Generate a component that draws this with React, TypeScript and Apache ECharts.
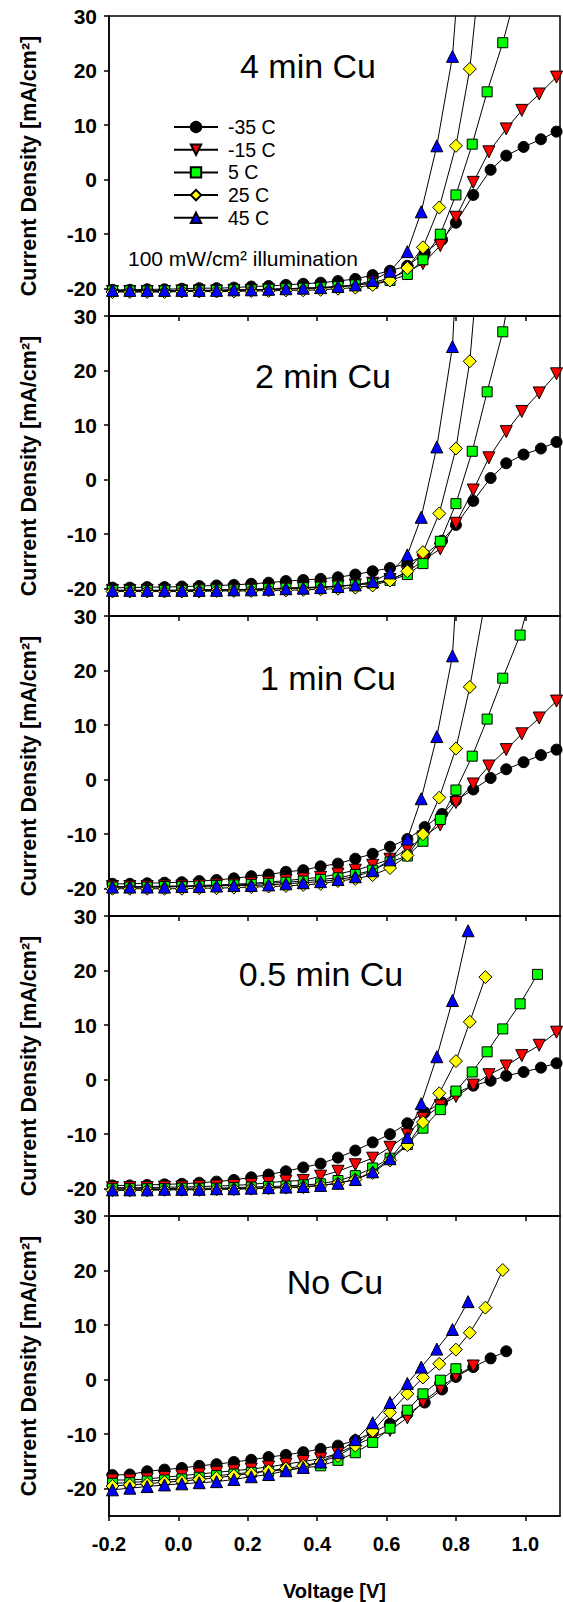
import React, { useEffect, useRef } from "react";
import * as echarts from "echarts";

// ---- voltage values (V) ----
const vBase = [-0.19, -0.14, -0.09, -0.04, 0.01, 0.06, 0.11, 0.16, 0.21, 0.26, 0.31, 0.36, 0.41, 0.46, 0.51, 0.56, 0.61];
const vTailM35 = [0.66, 0.71, 0.76, 0.8, 0.85, 0.9, 0.945, 0.995, 1.045, 1.09];
const vTailM15 = [0.66, 0.705, 0.755, 0.8, 0.85, 0.895, 0.945, 0.99, 1.04, 1.09];
const vTail5 = [0.66, 0.705, 0.755, 0.8, 0.847, 0.89, 0.935, 0.985, 1.035, 1.085];
const vTail25 = [0.66, 0.705, 0.752, 0.8, 0.84, 0.885, 0.935, 0.985];
const vTail45 = [0.66, 0.7, 0.745, 0.79, 0.835, 0.88];

const vM35 = vBase.concat(vTailM35);
const vM15 = vBase.concat(vTailM15);
const v5 = vBase.concat(vTail5);
const v25 = vBase.concat(vTail25);
const v45 = vBase.concat(vTail45);

// ---- tick labels ----
const xTicks = [-0.2, 0, 0.2, 0.4, 0.6, 0.8, 1.0];
const yTicks = [-20, -10, 0, 10, 20, 30];

// ---- legend / series names ----
const tempNames = ["-35 C", "-15 C", "5 C", "25 C", "45 C"];
const panelTitles = ["4 min Cu", "2 min Cu", "1 min Cu", "0.5 min Cu", "No Cu"];

// ---- current density (mA/cm2) : 4 min Cu ----
const cu4M35 = [-20.2, -20.2, -20.1, -20.1, -20.0, -19.9, -19.9, -19.8, -19.6, -19.5, -19.3, -19.1, -18.9, -18.6, -18.2, -17.5, -16.7, -15.8, -13.4, -11.0, -7.9, -2.8, 1.8, 4.4, 6.0, 7.4, 8.8];
const cu4M15 = [-20.5, -20.5, -20.5, -20.5, -20.4, -20.4, -20.4, -20.3, -20.3, -20.2, -20.1, -20.0, -19.9, -19.7, -19.4, -18.9, -18.0, -16.8, -15.4, -12.1, -6.9, -0.5, 5.1, 9.3, 12.7, 15.7, 18.8];
const cu4P5 = [-20.4, -20.4, -20.4, -20.4, -20.3, -20.3, -20.3, -20.2, -20.2, -20.1, -20.0, -19.9, -19.8, -19.6, -19.3, -19.0, -18.5, -17.4, -14.7, -10.0, -2.8, 6.5, 16.1, 25.1, 37];
const cu4P25 = [-20.6, -20.6, -20.6, -20.6, -20.5, -20.5, -20.5, -20.5, -20.4, -20.4, -20.3, -20.3, -20.2, -20.0, -19.8, -19.3, -18.5, -16.2, -12.4, -5.1, 6.2, 20.3, 48];
const cu4P45 = [-20.3, -20.3, -20.3, -20.3, -20.3, -20.3, -20.3, -20.2, -20.2, -20.1, -20.0, -19.9, -19.8, -19.6, -19.3, -18.5, -16.8, -13.2, -5.9, 6.2, 22.6, 60];

// ---- 2 min Cu ----
const cu2M35 = [-19.8, -19.8, -19.7, -19.7, -19.6, -19.5, -19.4, -19.3, -19.1, -18.9, -18.6, -18.4, -18.2, -17.9, -17.4, -16.8, -16.2, -15.4, -13.8, -11.2, -8.3, -3.9, 0.3, 3.0, 4.6, 5.7, 6.9];
const cu2M15 = [-20.3, -20.3, -20.3, -20.3, -20.3, -20.2, -20.2, -20.2, -20.1, -20.0, -19.9, -19.8, -19.7, -19.5, -19.3, -19.0, -18.3, -17.0, -14.8, -12.7, -8.0, -1.9, 4.0, 8.8, 12.5, 15.9, 19.4];
const cu2P5 = [-20.3, -20.3, -20.3, -20.3, -20.3, -20.2, -20.2, -20.2, -20.1, -20.0, -19.9, -19.8, -19.7, -19.5, -19.3, -19.0, -18.5, -17.4, -15.4, -11.3, -4.4, 5.2, 16.1, 27.1, 45];
const cu2P25 = [-20.5, -20.5, -20.5, -20.5, -20.5, -20.5, -20.4, -20.4, -20.4, -20.3, -20.3, -20.2, -20.1, -20.0, -19.8, -19.4, -18.5, -16.8, -13.3, -6.2, 5.7, 21.7, 55];
const cu2P45 = [-20.3, -20.3, -20.3, -20.3, -20.3, -20.3, -20.3, -20.2, -20.2, -20.1, -20.0, -19.9, -19.8, -19.6, -19.3, -18.7, -17.1, -13.8, -6.9, 6.0, 24.4, 80];

// ---- 1 min Cu ----
const cu1M35 = [-19.1, -19.1, -19.0, -18.9, -18.8, -18.6, -18.4, -18.1, -17.7, -17.4, -16.9, -16.6, -15.9, -15.4, -14.5, -13.6, -12.3, -10.9, -8.7, -6.3, -3.8, -1.8, 0.3, 1.9, 3.2, 4.5, 5.5];
const cu1M15 = [-19.6, -19.6, -19.6, -19.5, -19.5, -19.4, -19.3, -19.2, -19.0, -18.8, -18.5, -18.2, -17.9, -17.3, -16.6, -15.7, -14.6, -12.8, -10.5, -8.3, -4.2, -0.8, 2.5, 5.5, 8.4, 11.3, 14.4];
const cu1P5 = [-19.7, -19.7, -19.7, -19.6, -19.6, -19.5, -19.4, -19.3, -19.2, -19.0, -18.8, -18.6, -18.3, -18.0, -17.4, -16.6, -15.1, -14.0, -11.3, -7.3, -1.9, 4.3, 11.1, 18.6, 26.5, 38];
const cu1P25 = [-20.0, -20.0, -20.0, -20.0, -20.0, -19.9, -19.9, -19.8, -19.7, -19.6, -19.5, -19.3, -19.1, -18.6, -18.2, -17.5, -16.2, -13.9, -10.0, -3.3, 5.7, 17.0, 33];
const cu1P45 = [-19.7, -19.7, -19.7, -19.7, -19.6, -19.6, -19.5, -19.4, -19.4, -19.3, -19.1, -18.9, -18.7, -18.3, -17.8, -16.7, -14.7, -10.9, -3.5, 7.9, 22.7, 70];

// ---- 0.5 min Cu ----
const cu05M35 = [-19.4, -19.4, -19.3, -19.2, -19.1, -18.9, -18.7, -18.4, -17.9, -17.4, -16.8, -16.1, -15.4, -14.3, -13.0, -11.5, -10.0, -8.0, -6.0, -4.2, -2.4, -1.1, -0.2, 0.7, 1.4, 2.2, 3.0];
const cu05M15 = [-19.8, -19.8, -19.8, -19.7, -19.7, -19.6, -19.5, -19.4, -19.2, -18.9, -18.6, -18.5, -17.7, -16.8, -15.6, -14.4, -12.4, -10.1, -7.1, -4.8, -3.1, -1.0, 0.9, 2.5, 4.4, 6.3, 8.7];
const cu05P5 = [-20.0, -20.0, -20.0, -20.0, -19.9, -19.9, -19.9, -19.8, -19.7, -19.6, -19.5, -19.3, -19.1, -18.5, -17.6, -16.2, -14.4, -11.9, -8.9, -5.5, -2.1, 1.4, 5.1, 9.3, 13.9, 19.3];
const cu05P25 = [-20.3, -20.3, -20.3, -20.2, -20.2, -20.2, -20.1, -20.1, -20.0, -19.9, -19.8, -19.7, -19.4, -19.0, -18.3, -17.1, -14.8, -12.0, -7.8, -2.5, 3.4, 10.6, 18.8];
const cu05P45 = [-20.2, -20.2, -20.2, -20.1, -20.1, -20.1, -20.0, -20.0, -19.9, -19.8, -19.7, -19.6, -19.4, -19.0, -18.3, -16.9, -14.5, -10.6, -4.4, 4.2, 14.5, 27.3];

// ---- No Cu ----
const cu0M35 = [-17.5, -17.4, -16.8, -16.5, -16.2, -15.8, -15.5, -15.1, -14.7, -14.2, -13.8, -13.3, -12.7, -12.1, -11.1, -9.7, -8.1, -6.3, -4.2, -1.8, 0.5, 2.3, 3.9, 5.2];
const cu0M15 = [-18.4, -18.4, -18.2, -17.9, -17.6, -17.3, -17.0, -16.7, -16.4, -16.0, -15.5, -15.0, -14.5, -13.5, -12.0, -10.6, -9.3, -7.0, -4.1, -1.6, 0.7, 2.5];
const cu0P5 = [-19.0, -18.9, -18.6, -18.4, -18.2, -17.9, -17.6, -17.3, -17.0, -16.8, -16.5, -16.2, -15.8, -14.8, -13.4, -11.5, -8.9, -5.6, -2.6, -0.1, 2.0];
const cu0P25 = [-19.5, -19.3, -19.1, -18.8, -18.6, -18.3, -18.0, -17.6, -17.2, -16.7, -16.3, -15.8, -15.1, -14.0, -12.1, -9.4, -6.0, -2.6, 0.4, 2.9, 5.5, 8.6, 13.2, 20.1];
const cu0P45 = [-20.2, -19.9, -19.6, -19.3, -19.1, -18.9, -18.7, -18.3, -17.8, -17.4, -16.7, -16.1, -15.1, -13.4, -11.0, -7.9, -4.2, -0.7, 2.3, 5.6, 9.2, 14.3];

const panelData = [
  [cu4M35, cu4M15, cu4P5, cu4P25, cu4P45],
  [cu2M35, cu2M15, cu2P5, cu2P25, cu2P45],
  [cu1M35, cu1M15, cu1P5, cu1P25, cu1P45],
  [cu05M35, cu05M15, cu05P5, cu05P25, cu05P45],
  [cu0M35, cu0M15, cu0P5, cu0P25, cu0P45],
];
const tempVoltages = [vM35, vM15, v5, v25, v45];

const FONT = "'Liberation Sans', Arial, Helvetica, sans-serif";

const markerStyles = [
  { symbol: "circle", size: 11, rotate: 0, color: "#000000" },
  { symbol: "triangle", size: 12, rotate: 180, color: "#ff0000" },
  { symbol: "rect", size: 10, rotate: 0, color: "#00ff00" },
  { symbol: "diamond", size: 13, rotate: 0, color: "#ffff00" },
  { symbol: "triangle", size: 12, rotate: 0, color: "#0000ff" },
];

const PANEL_TOP = 16;
const PANEL_H = 300;
const GRID_LEFT = 109;
const GRID_W = 451;

const titlePos = [
  [308, 66],
  [323, 376],
  [328, 678],
  [321, 974],
  [335, 1282],
];

export default function App() {
  const ref = useRef<HTMLDivElement>(null);

  useEffect(() => {
    if (!ref.current) return;
    const chart = echarts.init(ref.current, null, { renderer: "svg" });

    const grids: any[] = [];
    const xAxes: any[] = [];
    const yAxes: any[] = [];
    const series: any[] = [];

    for (let p = 0; p < 5; p++) {
      const last = p === 4;
      grids.push({
        left: GRID_LEFT,
        width: GRID_W,
        top: PANEL_TOP + PANEL_H * p,
        height: PANEL_H,
        show: true,
        borderColor: "#000",
        borderWidth: 1.5,
        backgroundColor: "transparent",
        containLabel: false,
        outerBoundsMode: "none",
      });
      xAxes.push({
        gridIndex: p,
        type: "value",
        min: -0.2,
        max: 1.1,
        axisLine: { show: true, onZero: false, lineStyle: { color: "#000", width: 1.5 } },
        axisTick: { show: true, inside: false, length: 5, customValues: xTicks, lineStyle: { color: "#000", width: 1.5 } },
        axisLabel: {
          show: last,
          customValues: xTicks,
          formatter: (v: number) => v.toFixed(1),
          fontSize: 20,
          fontWeight: "bold",
          fontFamily: FONT,
          color: "#000",
          margin: 18,
        },
        splitLine: { show: false },
        name: last ? "Voltage [V]" : "",
        nameLocation: "middle",
        nameGap: 65,
        nameMoveOverlap: false,
        nameTextStyle: { fontSize: 20, fontWeight: "bold", fontFamily: FONT, color: "#000" },
      });
      yAxes.push({
        gridIndex: p,
        type: "value",
        min: -25,
        max: 30,
        axisLine: { show: true, onZero: false, lineStyle: { color: "#000", width: 1.5 } },
        axisTick: { show: true, inside: false, length: 5, customValues: yTicks, lineStyle: { color: "#000", width: 1.5 } },
        axisLabel: {
          show: true,
          customValues: yTicks,
          fontSize: 21,
          fontWeight: "bold",
          fontFamily: FONT,
          color: "#000",
          margin: 12,
        },
        splitLine: { show: false },
        name: "Current Density [mA/cm²]",
        nameLocation: "middle",
        nameRotate: 90,
        nameGap: 69,
        nameMoveOverlap: false,
        nameTextStyle: { fontSize: 21.5, fontWeight: "bold", fontFamily: FONT, color: "#000" },
      });

      for (let t = 0; t < 5; t++) {
        const ys = panelData[p][t];
        const vs = tempVoltages[t];
        const pts = ys.map((y, i) => [vs[i], y]);
        const m = markerStyles[t];
        series.push({
          type: "line",
          name: tempNames[t],
          xAxisIndex: p,
          yAxisIndex: p,
          data: pts,
          clip: true,
          symbol: m.symbol,
          symbolSize: m.size,
          symbolRotate: m.rotate,
          showSymbol: true,
          itemStyle: { color: m.color, borderColor: "#000", borderWidth: 1 },
          lineStyle: { color: "#000", width: 1 },
          emphasis: { disabled: true },
          z: 2 + t,
        });
      }
    }

    const graphics: any[] = panelTitles.map((txt, i) => ({
      type: "text",
      x: titlePos[i][0],
      y: titlePos[i][1],
      style: {
        text: txt,
        fontSize: 34,
        fontFamily: FONT,
        fill: "#000",
        align: "center",
        verticalAlign: "middle",
      },
    }));
    graphics.push({
      type: "text",
      x: 128,
      y: 258,
      style: {
        text: "100 mW/cm² illumination",
        fontSize: 21,
        fontFamily: FONT,
        fill: "#000",
        align: "left",
        verticalAlign: "middle",
      },
    });

    chart.setOption({
      animation: false,
      backgroundColor: "#fff",
      grid: grids,
      xAxis: xAxes,
      yAxis: yAxes,
      series,
      legend: {
        data: tempNames,
        orient: "vertical",
        left: 168,
        top: 112,
        itemWidth: 44,
        itemHeight: 13,
        itemGap: 2.7,
        selectedMode: false,
        textStyle: { fontSize: 19.5, fontFamily: FONT, color: "#000", lineHeight: 20, padding: [0, 0, 0, 5] },
      },
      graphic: graphics,
    });

    return () => chart.dispose();
  }, []);

  return (
    <div
      ref={ref}
      style={{ position: "absolute", left: 0, top: 0, width: 563, height: 1602, background: "#fff" }}
    />
  );
}
